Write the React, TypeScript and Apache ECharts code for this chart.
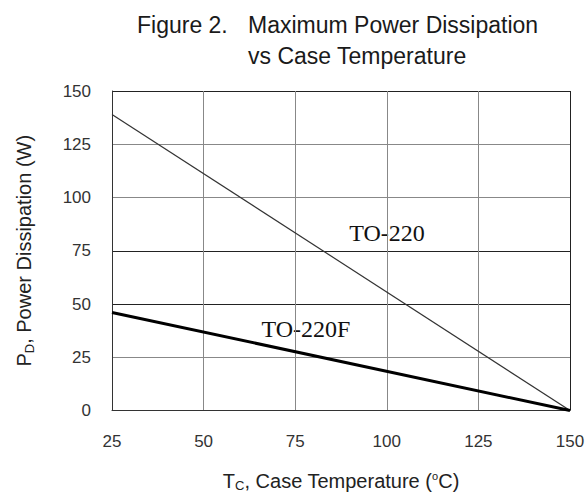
import React, { useEffect, useRef } from "react";
import * as echarts from "echarts";

const xTicks = [25, 50, 75, 100, 125, 150];
const yTicks = [0, 25, 50, 75, 100, 125, 150];
const to220 = [[25, 139], [150, 0]];
const to220f = [[25, 46], [150, 0]];
const labelTO220 = [387, 233];
const labelTO220F = [306, 329];

const SANS = "'Liberation Sans', Arial, sans-serif";
const SERIF = "'Liberation Serif', 'Times New Roman', serif";

export default function App() {
  const ref = useRef<HTMLDivElement>(null);
  useEffect(() => {
    const chart = echarts.init(ref.current!, null, { renderer: "svg" });
    chart.setOption({
      animation: false,
      backgroundColor: "#fff",
      grid: { left: 112, right: 18, top: 91, bottom: 80 },
      graphic: [
        { type: "text", x: 137, y: 25, style: { text: "Figure 2.", font: `23px ${SANS}`, fill: "#1a1a1a", verticalAlign: "middle" } },
        { type: "text", x: 248, y: 25, style: { text: "Maximum Power Dissipation", font: `23px ${SANS}`, fill: "#1a1a1a", verticalAlign: "middle" } },
        { type: "text", x: 248, y: 56, style: { text: "vs Case Temperature", font: `23px ${SANS}`, fill: "#1a1a1a", verticalAlign: "middle" } },
        { type: "text", x: labelTO220[0], y: labelTO220[1], style: { text: "TO-220", font: `24px ${SERIF}`, fill: "#111", align: "center", verticalAlign: "middle" } },
        { type: "text", x: labelTO220F[0], y: labelTO220F[1], style: { text: "TO-220F", font: `24px ${SERIF}`, fill: "#111", align: "center", verticalAlign: "middle" } },
      ],
      xAxis: {
        type: "value",
        min: xTicks[0],
        max: xTicks[xTicks.length - 1],
        interval: 25,
        name: "{a|T}{s|C}{a|, Case Temperature (}{s2|o}{a|C)}",
        nameLocation: "middle",
        nameGap: 59,
        nameTextStyle: {
          rich: {
            a: { fontSize: 20, fontFamily: SANS, color: "#222", lineHeight: 22 },
            s: { fontSize: 13, fontFamily: SANS, color: "#222", lineHeight: 22, padding: [10, 0, 0, 0] },
            s2: { fontSize: 11, fontFamily: SANS, color: "#222", lineHeight: 22, padding: [0, 0, 10, 0] },
          },
        },
        axisLine: { show: true, lineStyle: { color: "#333", width: 1 } },
        axisTick: { show: false },
        axisLabel: { margin: 22, fontSize: 17, color: "#333", fontFamily: SANS, showMaxLabel: true },
        splitLine: { show: true, lineStyle: { color: ["#333", "#888", "#888", "#888", "#888", "#222"], width: 1 } },
      },
      yAxis: {
        type: "value",
        min: yTicks[0],
        max: yTicks[yTicks.length - 1],
        interval: 25,
        name: "{a|P}{s|D}{a|, Power Dissipation (W)}",
        nameLocation: "middle",
        nameGap: 77,
        nameTextStyle: {
          rich: {
            a: { fontSize: 20, fontFamily: SANS, color: "#222", lineHeight: 22 },
            s: { fontSize: 13, fontFamily: SANS, color: "#222", lineHeight: 22, padding: [10, 0, 0, 0] },
          },
        },
        axisLine: { show: true, lineStyle: { color: "#333", width: 1 } },
        axisTick: { show: false },
        axisLabel: { margin: 21, fontSize: 17, color: "#333", fontFamily: SANS },
        splitLine: { show: true, lineStyle: { color: ["#555", "#888", "#222", "#222", "#888", "#888", "#222"], width: 1 } },
      },
      series: [
        { type: "line", data: to220, symbol: "none", lineStyle: { color: "#333", width: 1.2 } },
        { type: "line", data: to220f, symbol: "none", lineStyle: { color: "#000", width: 3 } },
      ],
    });
    return () => chart.dispose();
  }, []);
  return <div ref={ref} style={{ width: 588, height: 497, position: "absolute", left: 0, top: 0 }} />;
}
